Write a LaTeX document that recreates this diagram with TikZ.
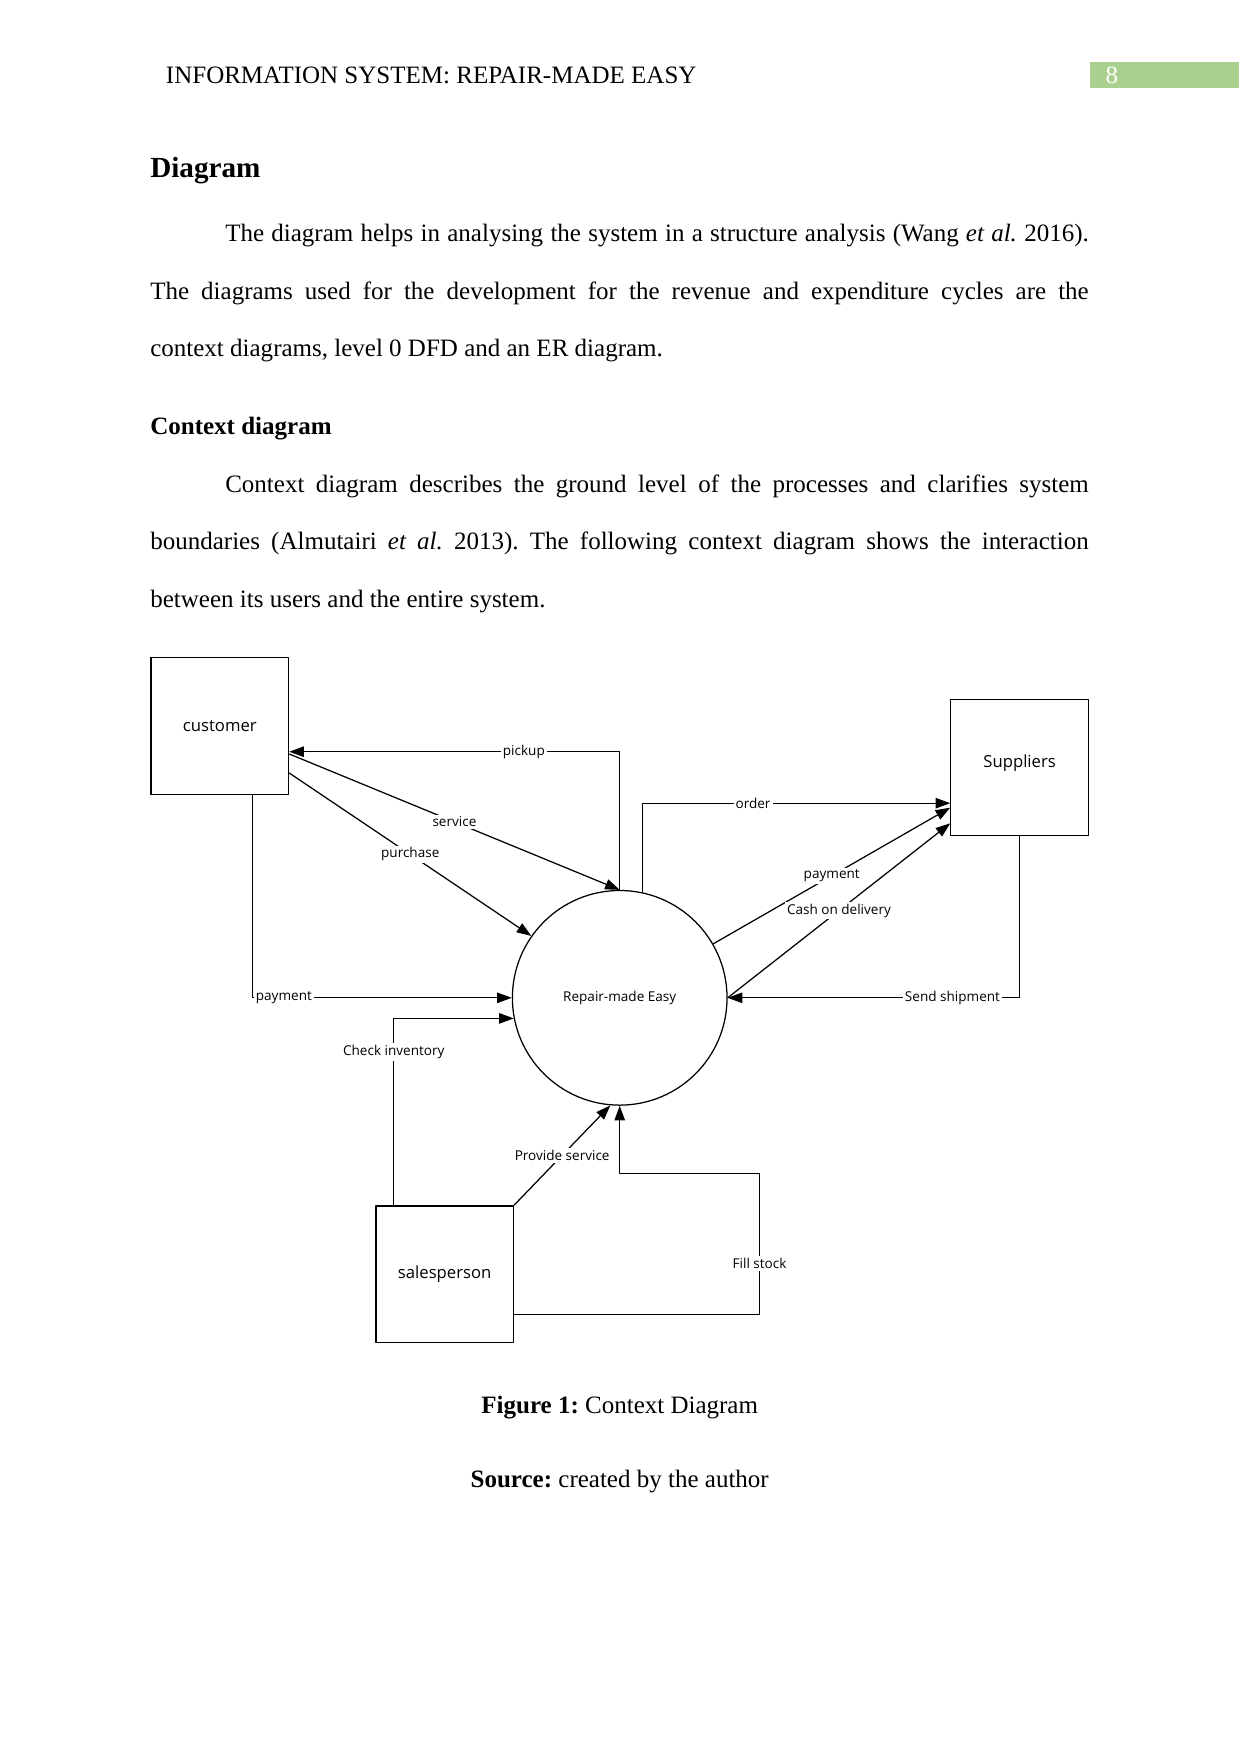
\documentclass[tikz,border=0pt,12pt]{standalone}
\usepackage{fontspec}
\setmainfont{Liberation Serif}
\newfontfamily\vsfont{Open Sans}
\usetikzlibrary{arrows.meta,calc}
\definecolor{pagegreen}{HTML}{A9D08E}
\frenchspacing
\begin{document}
\begin{tikzpicture}[x=0.53677pt,y=-0.53677pt,line join=round,
	txt/.style={anchor=base west,inner sep=0pt},
	ent/.style={draw,line width=0.6pt,minimum width=66pt,minimum height=65.5pt,font=\vsfont\fontsize{8}{9}\selectfont},
	proc/.style={draw,line width=0.6pt,circle,minimum size=103pt,font=\vsfont\fontsize{6.5}{8}\selectfont},
	flow/.style={draw,line width=0.6pt,-{Triangle[length=7pt,width=5pt]}},
	lbl/.style={fill=white,inner sep=1pt,font=\vsfont\fontsize{6.5}{8}\selectfont}]
	\useasboundingbox (0,0) rectangle (1109,1568);
	% page head
	\node[txt] (head) at (148,75) {INFORMATION SYSTEM: REPAIR-MADE EASY};
	\fill[pagegreen] (974,55) rectangle (1108,79);
	\node[txt,white] (pgno) at (988,75) {8};
	% text
	\node[txt,font=\fontsize{14}{16}\selectfont\bfseries] (h1) at (134,159) {Diagram};
	\node[txt] (p1) at (201,216) {\makebox[414.4pt][s]{The diagram helps in analysing the system in a structure analysis (Wang \textit{et al.} 2016).}};
	\node[txt] (p2) at (134,267.5) {\makebox[450.3pt][s]{The diagrams used for the development for the revenue and expenditure cycles are the}};
	\node[txt] (p3) at (134,319) {context diagrams, level 0 DFD and an ER diagram.};
	\node[txt,font=\bfseries] (h2) at (134,388) {Context diagram};
	\node[txt] (p4) at (201,440) {\makebox[414.4pt][s]{Context diagram describes the ground level of the processes and clarifies system}};
	\node[txt] (p5) at (134,491.5) {\makebox[450.3pt][s]{boundaries (Almutairi \textit{et al.} 2013). The following context diagram shows the interaction}};
	\node[txt] (p6) at (134,543) {between its users and the entire system.};
	% context diagram
	\node[ent] (cust) at (196.5,649) {customer};
	\node[ent] (sup) at (911.5,686) {\raisebox{6pt}{Suppliers}};
	\node[ent] (sales) at (397.5,1139) {salesperson};
	\node[proc] (rme) at (554,892) {Repair-made Easy};
	\draw[flow] (rme.north) |- node[lbl,pos=0.645]{pickup} ($(cust.east)+(0,23)$);
	\draw[flow] ($(cust.east)+(0,25)$) -- node[lbl]{service} (rme.north);
	\draw[flow] ($(cust.east)+(0,42)$) -- node[lbl]{purchase} (rme.145);
	\draw[flow] ($(cust.south)+(29.5,0)$) |- node[lbl,pos=0.56]{payment} (rme.west);
	\draw[flow] (rme.78) |- node[lbl,pos=0.68]{order} ($(sup.west)+(0,32)$);
	\draw[flow] (rme.30) -- node[lbl]{payment} ($(sup.west)+(0,36)$);
	\draw[flow] (rme.east) -- node[lbl]{Cash on delivery} ($(sup.west)+(0,50)$);
	\draw[flow] (sup.south) |- node[lbl,pos=0.615]{Send shipment} (rme.east);
	\draw[flow] ($(sales.north)+(-45.5,0)$) |- node[lbl,pos=0.41]{Check inventory} (rme.191);
	\draw[flow] (sales.north east) -- node[lbl]{Provide service} (rme.265);
	\coordinate (fs) at (679,1049);
	\draw[flow] ($(sales.east)+(0,36)$) -| node[lbl,pos=0.68]{Fill stock} (fs) -| (rme.south);
	% caption
	\node[anchor=base] (cap) at (554,1264) {\textbf{Figure 1:} Context Diagram};
	\node[anchor=base] (src) at (554,1330) {\textbf{Source:} created by the author};
\end{tikzpicture}
\end{document}
